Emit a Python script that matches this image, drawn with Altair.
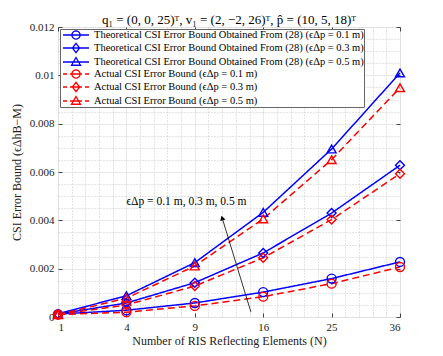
import math
import altair as alt
import pandas as pd

SERIF = "Liberation Serif"

# ---------------- data ----------------
N_VALUES = [1, 4, 9, 16, 25, 36]

THEORY_01 = [0.00012, 0.00028, 0.00058, 0.00103, 0.00159, 0.00228]
THEORY_03 = [0.00012, 0.00058, 0.00142, 0.00265, 0.00430, 0.00628]
THEORY_05 = [0.00013, 0.00088, 0.00225, 0.00433, 0.00695, 0.01010]
ACTUAL_01 = [0.00010, 0.00020, 0.00046, 0.00084, 0.00138, 0.00207]
ACTUAL_03 = [0.00010, 0.00050, 0.00128, 0.00245, 0.00403, 0.00593]
ACTUAL_05 = [0.00010, 0.00078, 0.00211, 0.00406, 0.00651, 0.00949]

SERIES_NAMES = [
    "Theoretical CSI Error Bound Obtained From (28) (ϵΔp = 0.1 m)",
    "Theoretical CSI Error Bound Obtained From (28) (ϵΔp = 0.3 m)",
    "Theoretical CSI Error Bound Obtained From (28) (ϵΔp = 0.5 m)",
    "Actual CSI Error Bound (ϵΔp = 0.1 m)",
    "Actual CSI Error Bound (ϵΔp = 0.3 m)",
    "Actual CSI Error Bound (ϵΔp = 0.5 m)",
]
SERIES_VALUES = [THEORY_01, THEORY_03, THEORY_05, ACTUAL_01, ACTUAL_03, ACTUAL_05]

Y_TICKS = [0, 0.002, 0.004, 0.006, 0.008, 0.010, 0.012]

TITLE = "q₁ = (0, 0, 25)ᵀ, v₁ = (2, −2, 26)ᵀ, p̂ = (10, 5, 18)ᵀ"
X_TITLE = "Number of RIS Reflecting Elements (N)"
Y_TITLE = "CSI Error Bound (ϵΔhB−M)"

ANNOT_TEXT = "ϵΔp = 0.1 m, 0.3 m, 0.5 m"
ANNOT_X = 1.0   # category index
ANNOT_Y = 0.00475
ARROW_FROM_X, ARROW_FROM_Y = 2.82, 0.00021
ARROW_TO_X, ARROW_TO_Y = 2.40, 0.00410

# ---------------- tables ----------------
rows = []
for name, vals in zip(SERIES_NAMES, SERIES_VALUES):
    for i, (n, v) in enumerate(zip(N_VALUES, vals)):
        rows.append({"idx": i, "N": n, "value": v, "series": name})
df = pd.DataFrame(rows)

annot_df = pd.DataFrame([{"x": ANNOT_X, "y": ANNOT_Y, "label": ANNOT_TEXT}])
arrow_df = pd.DataFrame([{"x": ARROW_FROM_X, "y": ARROW_FROM_Y,
                          "x2": ARROW_TO_X, "y2": ARROW_TO_Y}])
head_df = pd.DataFrame([{"x": ARROW_TO_X, "y": ARROW_TO_Y}])

n_cat = len(N_VALUES)
X_DOMAIN = [0, n_cat - 1]
Y_DOMAIN = [0, max(Y_TICKS)]
major_x = list(range(n_cat))
minor_x = [round(i + k * 0.2, 3) for i in range(n_cat - 1) for k in range(1, 5)]
minor_y = [round(k * 0.0005, 5) for k in range(int(max(Y_TICKS) / 0.0005) + 1)
           if k % 4 != 0]

xscale = alt.Scale(domain=X_DOMAIN, nice=False, zero=False)
yscale = alt.Scale(domain=Y_DOMAIN, nice=False, zero=False)

BLUE, RED = "#0000ff", "#ff0000"
color_scale = alt.Scale(domain=SERIES_NAMES, range=[BLUE] * 3 + [RED] * 3)
dash_scale = alt.Scale(domain=SERIES_NAMES, range=[[1, 0]] * 3 + [[7, 4]] * 3)
shape_scale = alt.Scale(domain=SERIES_NAMES,
                        range=["circle", "diamond", "triangle-up"] * 2)

# legend symbols: line + marker (unit = 5 px with symbolSize 100)
def polygon_circle(r, n=20):
    pts = [(r * math.cos(2 * math.pi * k / n), r * math.sin(2 * math.pi * k / n))
           for k in range(n)]
    return "M" + "L".join(f"{x:.3f},{y:.3f}" for x, y in pts) + "Z"

CIRC = polygon_circle(0.82)
DIAM = "M0,-0.92L0.72,0L0,0.92L-0.72,0Z"
TRI = "M0,-0.9L0.9,0.65L-0.9,0.65Z"
SOLID = "M-2.6,0L2.6,0"
DASHED = "M-2.6,0L-1.8,0M-1.2,0L1.2,0M1.8,0L2.6,0"
legend_paths = [SOLID + CIRC, SOLID + DIAM, SOLID + TRI,
                DASHED + CIRC, DASHED + DIAM, DASHED + TRI]
legend_shape_scale = alt.Scale(domain=SERIES_NAMES, range=legend_paths)

label_expr = "[" + ",".join(f"'{n}'" for n in N_VALUES) + "][datum.value]"

AX_COL = "#444444"
TXT_COL = "#222222"

x_main = alt.Axis(orient="bottom", values=major_x, labelExpr=label_expr,
                  grid=True, gridColor="#e2e2e2", gridWidth=0.8, ticks=False,
                  domain=False, labelFont=SERIF, labelFontSize=11,
                  labelColor=TXT_COL, labelPadding=4, title=X_TITLE,
                  titleFont=SERIF, titleFontSize=12, titleFontWeight="normal",
                  titleColor=TXT_COL, titlePadding=3)
y_main = alt.Axis(orient="left", values=Y_TICKS, format="~g", grid=True,
                  gridColor="#e2e2e2", gridWidth=0.8, ticks=False, domain=False,
                  labelFont=SERIF, labelFontSize=11, labelColor=TXT_COL,
                  labelPadding=4, title=Y_TITLE, titleFont=SERIF,
                  titleFontSize=12, titleFontWeight="normal",
                  titleColor=TXT_COL, titlePadding=6)

x_minor = alt.Axis(orient="bottom", values=minor_x, grid=True, gridDash=[1, 2],
                   gridColor="#bbbbbb", gridWidth=0.8, labels=False,
                   ticks=False, domain=False, title=None)
y_minor = alt.Axis(orient="left", values=minor_y, grid=True, gridDash=[1, 2],
                   gridColor="#bbbbbb", gridWidth=0.8, labels=False,
                   ticks=False, domain=False, title=None)

# inward ticks on the top and right edges
x_top_ticks = alt.Axis(orient="bottom", offset=-290, values=major_x,
                       labels=False, ticks=True, tickSize=4, tickColor=AX_COL,
                       domain=False, grid=False, title=None)
y_right_ticks = alt.Axis(orient="left", offset=-342, values=Y_TICKS,
                         labels=False, ticks=True, tickSize=4, tickColor=AX_COL,
                         domain=False, grid=False, title=None)
# inward ticks on the bottom and left edges
x_bot_ticks = alt.Axis(orient="top", offset=-290, values=major_x,
                       labels=False, ticks=True, tickSize=4, tickColor=AX_COL,
                       domain=False, grid=False, title=None)
y_left_ticks = alt.Axis(orient="right", offset=-342, values=Y_TICKS,
                        labels=False, ticks=True, tickSize=4, tickColor=AX_COL,
                        domain=False, grid=False, title=None)

base = alt.Chart(df)

lines = base.mark_line(strokeWidth=1.5).encode(
    x=alt.X("idx:Q", scale=xscale, axis=x_main),
    y=alt.Y("value:Q", scale=yscale, axis=y_main),
    color=alt.Color("series:N", scale=color_scale, legend=None),
    strokeDash=alt.StrokeDash("series:N", scale=dash_scale, legend=None),
    order="idx:Q",
)

points = base.mark_point(filled=False, size=80, strokeWidth=1.4, opacity=1).encode(
    x=alt.X("idx:Q", scale=xscale, axis=x_minor),
    y=alt.Y("value:Q", scale=yscale, axis=y_minor),
    color=alt.Color("series:N", scale=color_scale, legend=None),
    shape=alt.Shape("series:N", scale=shape_scale, legend=None),
)

leg = alt.Legend(title=None, orient="none", legendX=2, legendY=2, padding=0,
                 rowPadding=-6, symbolSize=100, symbolStrokeWidth=1.3,
                 symbolOffset=10, labelOffset=12, labelFont=SERIF,
                 labelFontSize=10.5, labelColor="#000000", labelLimit=500,
                 fillColor="white", strokeColor="#666666",
                 symbolFillColor="transparent")

legend_layer = base.transform_filter("false").mark_point(
    filled=False, strokeWidth=1.3, opacity=1).encode(
    x=alt.X("idx:Q", scale=xscale, axis=None),
    y=alt.Y("value:Q", scale=yscale, axis=None),
    color=alt.Color("series:N", scale=color_scale, legend=leg),
    shape=alt.Shape("series:N", scale=legend_shape_scale, legend=leg),
)

annot = alt.Chart(annot_df).mark_text(
    align="left", baseline="middle", font=SERIF, fontSize=11.5,
    color="#000000").encode(
    x=alt.X("x:Q", scale=xscale, axis=x_top_ticks),
    y=alt.Y("y:Q", scale=yscale, axis=y_right_ticks),
    text="label:N",
)

arrow = alt.Chart(arrow_df).mark_rule(color="#000000", strokeWidth=0.8).encode(
    x=alt.X("x:Q", scale=xscale, axis=x_bot_ticks),
    y=alt.Y("y:Q", scale=yscale, axis=y_left_ticks),
    x2="x2:Q",
    y2="y2:Q",
)

head = alt.Chart(head_df).mark_point(
    shape="triangle-up", filled=True, size=30, angle=343, color="#000000",
    opacity=1).encode(
    x=alt.X("x:Q", scale=xscale, axis=None),
    y=alt.Y("y:Q", scale=yscale, axis=None),
)

chart = alt.layer(lines, points, annot, arrow, head, legend_layer).resolve_scale(
    color="independent", shape="independent", strokeDash="independent"
).resolve_axis(
    x="independent", y="independent"
).properties(
    width=342, height=290,
    autosize=alt.AutoSizeParams(type="none"),
    padding={"left": 50, "top": 19, "right": 35, "bottom": 31},
    title=alt.TitleParams(text=TITLE, font=SERIF, fontSize=13,
                          fontWeight="normal", color="#000000", offset=-6,
                          anchor="middle", frame="group"),
).configure_view(
    stroke=AX_COL, strokeWidth=0.8
).configure(background="white")

chart.save("out.html", embed_options={"renderer": "svg", "actions": False})
